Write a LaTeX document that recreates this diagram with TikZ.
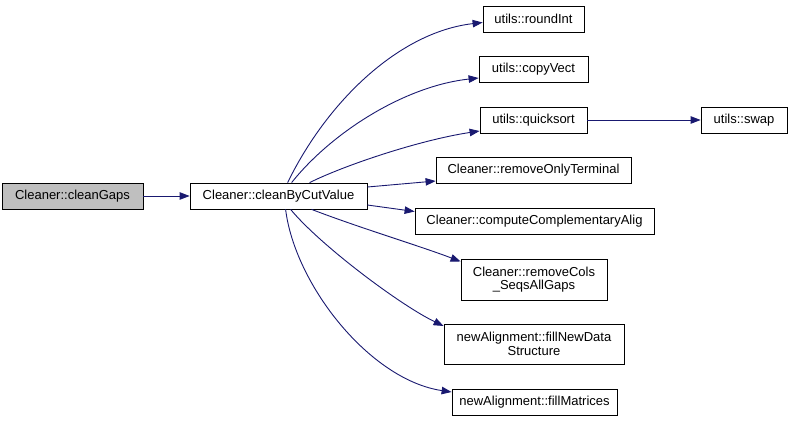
\documentclass[tikz,border=0pt]{standalone}
\usepackage{fontspec}
\setmainfont{Liberation Sans}
\usetikzlibrary{arrows.meta}
\definecolor{edgeblue}{HTML}{191970}
\definecolor{grayfill}{HTML}{BFBFBF}
\tikzset{
  fn/.style={draw=black, line width=0.8pt, fill=white, inner sep=0pt, align=center,
    font=\fontsize{13}{13.5}\selectfont},
  edge/.style={draw=edgeblue, line width=0.9pt, -{Triangle[length=10pt,width=7.5pt]}},
}
\begin{document}
\begin{tikzpicture}[x=1pt,y=-1pt]
\useasboundingbox (0,0) rectangle (792,423);
\node[fn, fill=grayfill, minimum width=141pt, minimum height=26pt] (cg) at (72.5,196) {Cleaner::cleanGaps};
\node[fn, minimum width=177pt, minimum height=26pt] (cbc) at (278.5,196) {Cleaner::cleanByCutValue};
\node[fn, minimum width=101pt, minimum height=26pt] (ri) at (533.5,19) {utils::roundInt};
\node[fn, minimum width=109pt, minimum height=26pt] (cv) at (533.5,69.5) {utils::copyVect};
\node[fn, minimum width=107pt, minimum height=26pt] (qs) at (533.5,120) {utils::quicksort};
\node[fn, minimum width=86pt, minimum height=26pt] (sw) at (744,120) {utils::swap};
\node[fn, minimum width=195pt, minimum height=26pt] (rot) at (533.5,170) {Cleaner::removeOnlyTerminal};
\node[fn, minimum width=239pt, minimum height=26pt] (cca) at (534.5,221.5) {Cleaner::computeComplementaryAlig};
\node[fn, minimum width=146pt, minimum height=41pt] (rc) at (534,279.5) {Cleaner::removeCols\\\_SeqsAllGaps};
\node[fn, minimum width=180pt, minimum height=40pt] (fnd) at (534,344) {newAlignment::fillNewData\\Structure};
\node[fn, minimum width=165pt, minimum height=26pt] (fm) at (534.5,402.5) {newAlignment::fillMatrices};

\draw[edge] (cg.east) -- (cbc.west);
\draw[edge] (qs.east) -- (sw.west);
\draw[edge] ([xshift=98pt]cbc.north west) .. controls (328,100) and (400,32) .. ([yshift=-3.5pt]ri.west);
\draw[edge] ([xshift=102pt]cbc.north west) .. controls (332,132) and (405,86) .. ([yshift=-8.5pt]cv.west);
\draw[edge] ([xshift=120pt]cbc.north west) .. controls (345,165) and (420,140) .. ([yshift=-11pt]qs.west);
\draw[edge] ([yshift=9pt]cbc.east) -- ([yshift=-11pt]rot.west);
\draw[edge] ([yshift=-9pt]cbc.east) -- ([yshift=10pt]cca.west);
\draw[edge] ([xshift=122pt]cbc.south west) .. controls (360,228) and (420,246) .. ([yshift=18pt]rc.west);
\draw[edge] ([xshift=101pt]cbc.south west) .. controls (320,245) and (400,305) .. ([yshift=18pt]fnd.west);
\draw[edge] ([xshift=96pt]cbc.south west) .. controls (295,285) and (370,380) .. ([yshift=10.5pt]fm.west);
\end{tikzpicture}
\end{document}
